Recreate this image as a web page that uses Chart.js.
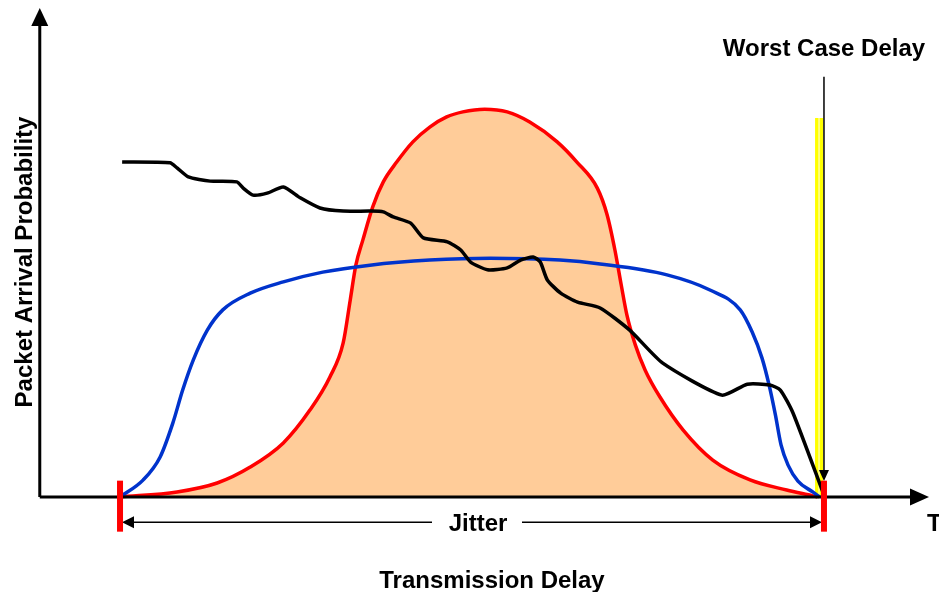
<!DOCTYPE html>
<html>
<head>
<meta charset="utf-8">
<script src="https://cdn.jsdelivr.net/npm/chart.js"></script>
<style>
    body { margin: 0; background: #ffffff; }
    .wrap { width: 939px; height: 592px; position: relative; }
</style>
</head>
<body>
<div class="wrap"><canvas id="c"></canvas></div>
<script>
// ---- data (x: delay, 0 = jitter start, 100 = worst case; y: probability) ----
const redX  = [0, 8.1, 13.8, 18.5, 23.2, 27.0, 29.8, 31.7, 32.7, 33.5, 34.5, 35.9, 37.4, 39.3, 41.6, 44.0, 46.4, 48.7, 51.8, 55.0, 58.2, 62.1, 64.9, 67.8, 69.2, 70.3, 71.2, 72.0, 73.2, 74.6, 76.7, 80.0, 84.2, 89.5, 94.7, 98.4, 99.1];
const redY  = [0, 1.3, 3.6, 7.7, 13.9, 22.4, 30.8, 39.6, 50.6, 59.6, 66.1, 74.6, 81.0, 86.1, 91.3, 95.1, 97.7, 99.0, 99.7, 99.0, 96.4, 91.3, 86.1, 79.4, 72.5, 63.5, 54.5, 46.8, 39.1, 32.6, 25.7, 17.2, 9.5, 4.4, 1.8, 0.3, 0];

const blueX = [0, 3.3, 5.7, 7.5, 8.9, 10.4, 12.4, 14.6, 18.5, 23.2, 28.8, 35.5, 44.0, 52.6, 62.5, 68.2, 77.7, 83.8, 88.1, 89.8, 91.2, 92.2, 93.1, 93.9, 94.9, 96.3, 98.4, 99.4];
const blueY = [0, 4.4, 10.3, 19.0, 27.5, 35.2, 42.9, 48.1, 52.4, 55.3, 57.8, 59.6, 60.9, 61.4, 60.9, 59.9, 57.1, 53.2, 48.1, 42.4, 35.7, 28.8, 21.1, 13.4, 8.2, 4.1, 1.3, 0];

const blackX = [0.3, 7.1, 8.1, 9.7, 12.8, 16.6, 17.5, 18.9, 20.9, 23.2, 25.6, 28.4, 31.7, 35.6, 37.4, 38.8, 41.3, 43.1, 46.5, 48.4, 49.8, 52.2, 55.0, 56.9, 58.7, 59.7, 60.7, 62.6, 65.0, 68.2, 72.4, 77.1, 85.5, 89.1, 92.3, 93.8, 95.6, 99.9];
const blackY = [86.1, 85.9, 84.6, 82.3, 81.2, 81.0, 79.4, 77.6, 78.1, 79.7, 76.9, 74.3, 73.5, 73.5, 73.3, 72.0, 70.4, 66.6, 65.6, 63.5, 60.4, 58.4, 58.9, 60.9, 61.7, 60.4, 55.8, 52.4, 50.1, 48.6, 42.9, 34.4, 26.2, 29.0, 28.8, 27.5, 21.6, 1.0];

const yellowX = [99.3, 99.3];
const yellowY = [0, 97.4];

const jitterRange = [0, 100];
const worstCase = 100;
const worstArrowY = [108, 4.1];

function pts(xs, ys) {
    return xs.map((x, i) => ({ x: x, y: ys[i] }));
}

const FONT = 'bold 24px "Liberation Sans", Arial, sans-serif';

// -----------------------------
// AXES, ARROWS, LABELS
// -----------------------------
function arrowHead(ctx, x, y, dir, len, half) {
    ctx.beginPath();
    if (dir === "up") { ctx.moveTo(x, y); ctx.lineTo(x - half, y + len); ctx.lineTo(x + half, y + len); }
    if (dir === "down") { ctx.moveTo(x, y); ctx.lineTo(x - half, y - len); ctx.lineTo(x + half, y - len); }
    if (dir === "right") { ctx.moveTo(x, y); ctx.lineTo(x - len, y - half); ctx.lineTo(x - len, y + half); }
    if (dir === "left") { ctx.moveTo(x, y); ctx.lineTo(x + len, y - half); ctx.lineTo(x + len, y + half); }
    ctx.closePath();
    ctx.fill();
}

const decor = {
    id: "decor",
    afterDatasetsDraw(chart) {
        const ctx = chart.ctx;
        const xs = chart.scales.x, ys = chart.scales.y;
        const x0 = xs.getPixelForValue(-11.4);
        const yBase = ys.getPixelForValue(0);
        ctx.save();
        ctx.fillStyle = "#000";
        ctx.strokeStyle = "#000";

        // y axis
        ctx.lineWidth = 3;
        ctx.beginPath();
        ctx.moveTo(x0, yBase);
        ctx.lineTo(x0, 24);
        ctx.stroke();
        arrowHead(ctx, x0, 8, "up", 18, 8.5);

        // x axis
        ctx.beginPath();
        ctx.moveTo(x0, yBase);
        ctx.lineTo(912, yBase);
        ctx.stroke();
        arrowHead(ctx, 929, yBase, "right", 19, 8.5);

        // worst case arrow
        const wx = xs.getPixelForValue(worstCase);
        ctx.lineWidth = 1.5;
        ctx.beginPath();
        ctx.moveTo(wx, ys.getPixelForValue(worstArrowY[0]));
        ctx.lineTo(wx, ys.getPixelForValue(worstArrowY[1]) - 8);
        ctx.stroke();
        arrowHead(ctx, wx, ys.getPixelForValue(worstArrowY[1]), "down", 11, 5);

        // jitter arrow
        const jl = xs.getPixelForValue(jitterRange[0]) + 2;
        const jr = xs.getPixelForValue(jitterRange[1]) - 2;
        const jy = ys.getPixelForValue(-6.5);
        ctx.lineWidth = 1.5;
        ctx.beginPath();
        ctx.moveTo(jl + 10, jy); ctx.lineTo(432, jy);
        ctx.moveTo(522, jy); ctx.lineTo(jr - 10, jy);
        ctx.stroke();
        arrowHead(ctx, jl, jy, "left", 12, 6);
        arrowHead(ctx, jr, jy, "right", 12, 6);

        // red ticks
        ctx.fillStyle = "#ff0000";
        jitterRange.forEach(v => {
            const px = xs.getPixelForValue(v);
            ctx.fillRect(px - 3, ys.getPixelForValue(4.2), 6, 51);
        });

        // text
        ctx.fillStyle = "#000";
        ctx.font = FONT;
        ctx.textAlign = "center";
        ctx.textBaseline = "alphabetic";
        ctx.fillText("Worst Case Delay", 824, 56);
        ctx.fillText("Jitter", 478, 531);
        ctx.fillText("Transmission Delay", 492, 588);
        ctx.textAlign = "left";
        ctx.fillText("T", 927, 531);

        ctx.translate(32, 262);
        ctx.rotate(-Math.PI / 2);
        ctx.textAlign = "center";
        ctx.fillText("Packet Arrival Probability", 0, 0);
        ctx.restore();
    }
};

new Chart(document.getElementById("c"), {
    type: "line",
    data: {
        datasets: [
            {
                data: pts(yellowX, yellowY),
                borderColor: "#ffff00",
                borderWidth: 8,
                pointRadius: 0,
                tension: 0,
                order: 5
            },
            {
                data: pts(yellowX, yellowY),
                borderColor: "#ffffa0",
                borderWidth: 1.5,
                pointRadius: 0,
                tension: 0,
                order: 4
            },
            {
                data: pts(redX, redY),
                borderColor: "#ff0000",
                backgroundColor: "#ffcc99",
                borderWidth: 3.5,
                fill: "origin",
                pointRadius: 0,
                cubicInterpolationMode: "monotone",
                order: 3
            },
            {
                data: pts(blueX, blueY),
                borderColor: "#0033cc",
                borderWidth: 3.5,
                fill: false,
                pointRadius: 0,
                cubicInterpolationMode: "monotone",
                order: 2
            },
            {
                data: pts(blackX, blackY),
                borderColor: "#000000",
                borderWidth: 3.5,
                fill: false,
                pointRadius: 0,
                tension: 0.2,
                order: 1
            }
        ]
    },
    options: {
        responsive: true,
        maintainAspectRatio: false,
        animation: false,
        layout: { padding: 0 },
        plugins: { legend: { display: false }, tooltip: { enabled: false } },
        scales: {
            x: { type: "linear", min: -17.05, max: 116.34, display: false },
            y: { type: "linear", min: -24.42, max: 127.76, display: false }
        }
    },
    plugins: [decor]
});
</script>
</body>
</html>
